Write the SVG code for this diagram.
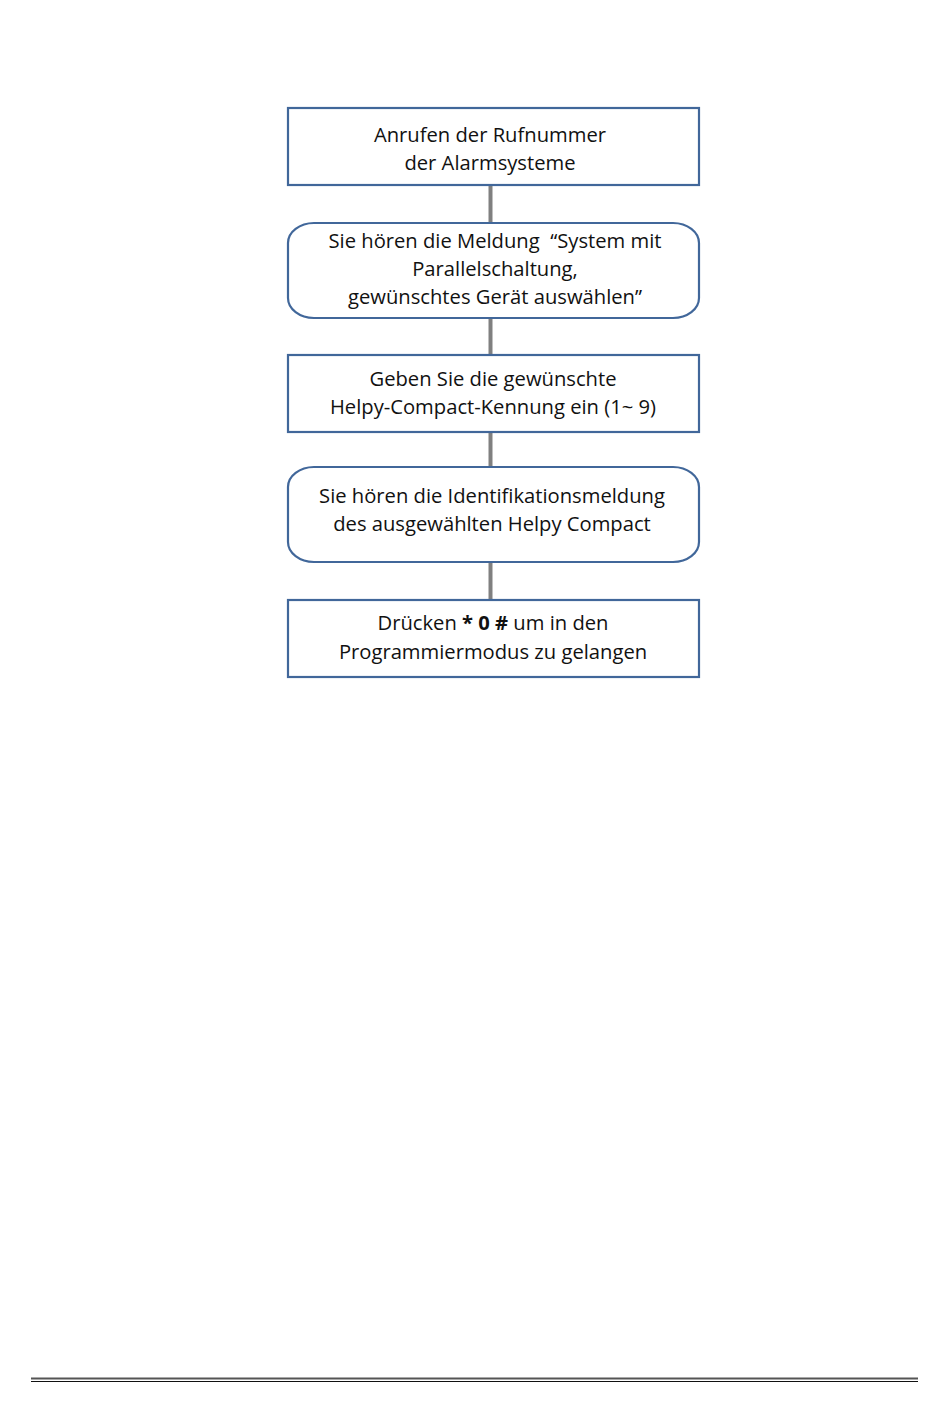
<svg xmlns="http://www.w3.org/2000/svg" width="950" height="1411" viewBox="0 0 950 1411">
<style>
.box{fill:#fff;stroke:#41679A;stroke-width:2.2}
.t{font-family:"Open Sans","Noto Sans",sans-serif;font-size:20.2px;fill:#111;text-anchor:middle}
.c{stroke:#808080;stroke-width:4;fill:none}
</style>
<rect width="950" height="1411" fill="#fff"/>
<g id="connectors">
<line class="c" x1="490.5" y1="185" x2="490.5" y2="223"/>
<line class="c" x1="490.5" y1="318" x2="490.5" y2="355"/>
<line class="c" x1="490.5" y1="432" x2="490.5" y2="467"/>
<line class="c" x1="490.5" y1="562" x2="490.5" y2="600"/>
</g>
<g id="n1">
<rect class="box" x="288" y="108" width="411" height="77"/>
<text class="t" x="490" y="142">Anrufen der Rufnummer</text>
<text class="t" x="490" y="170">der Alarmsysteme</text>
</g>
<g id="n2">
<rect class="box" x="288" y="223" width="411" height="95" rx="26" ry="20"/>
<text class="t" x="495" y="248" xml:space="preserve">Sie hören die Meldung  “System mit</text>
<text class="t" x="495" y="276">Parallelschaltung,</text>
<text class="t" x="495" y="304">gewünschtes Gerät auswählen”</text>
</g>
<g id="n3">
<rect class="box" x="288" y="355" width="411" height="77"/>
<text class="t" x="493" y="386">Geben Sie die gewünschte</text>
<text class="t" x="493" y="414">Helpy-Compact-Kennung ein (1~ 9)</text>
</g>
<g id="n4">
<rect class="box" x="288" y="467" width="411" height="95" rx="26" ry="20"/>
<text class="t" x="492" y="503">Sie hören die Identifikationsmeldung</text>
<text class="t" x="492" y="531">des ausgewählten Helpy Compact</text>
</g>
<g id="n5">
<rect class="box" x="288" y="600" width="411" height="77"/>
<text class="t" x="493" y="630">Drücken <tspan font-weight="bold">* 0 #</tspan> um in den</text>
<text class="t" x="493" y="659">Programmiermodus zu gelangen</text>
</g>
<line x1="31" y1="1378.5" x2="918" y2="1378.5" stroke="#555" stroke-width="2"/>
<line x1="31" y1="1381.5" x2="918" y2="1381.5" stroke="#111" stroke-width="1"/>
</svg>
